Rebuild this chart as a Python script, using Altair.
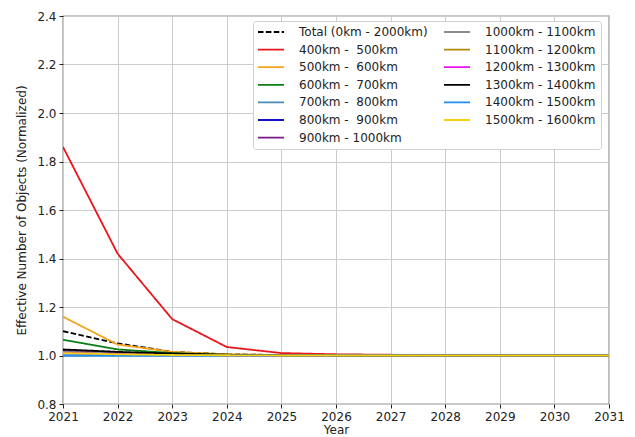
import altair as alt
import pandas as pd

years = list(range(2021, 2032))

series_names = [
    "Total (0km - 2000km)",
    "400km -\u00a0 500km",
    "500km -\u00a0 600km",
    "600km -\u00a0 700km",
    "700km -\u00a0 800km",
    "800km -\u00a0 900km",
    "900km - 1000km",
    "1000km - 1100km",
    "1100km - 1200km",
    "1200km - 1300km",
    "1300km - 1400km",
    "1400km - 1500km",
    "1500km - 1600km",
]

series_colors = [
    "#000000", "#e8161c", "#f5a31a", "#0a7d14", "#4a8bb5", "#1010c8", "#7a1a8a",
    "#8c8c8c", "#b08a0c", "#f010f0", "#000000", "#2090f0", "#f5d010",
]

total_v   = [1.100, 1.050, 1.015, 1.005, 1.002, 1.001, 1.000, 1.000, 1.000, 1.000, 1.000]
r400_v    = [1.860, 1.420, 1.150, 1.035, 1.010, 1.005, 1.003, 1.002, 1.001, 1.000, 1.000]
r500_v    = [1.160, 1.045, 1.015, 1.005, 1.002, 1.001, 1.000, 1.000, 1.000, 1.000, 1.000]
r600_v    = [1.065, 1.025, 1.010, 1.003, 1.001, 1.000, 1.000, 1.000, 1.000, 1.000, 1.000]
r700_v    = [1.000, 1.000, 1.000, 1.000, 1.000, 1.000, 1.000, 1.000, 1.000, 1.000, 1.000]
r800_v    = [1.020, 1.010, 1.004, 1.002, 1.001, 1.000, 1.000, 1.000, 1.000, 1.000, 1.000]
r900_v    = [1.020, 1.010, 1.004, 1.002, 1.001, 1.000, 1.000, 1.000, 1.000, 1.000, 1.000]
r1000_v   = [1.015, 1.008, 1.003, 1.001, 1.000, 1.000, 1.000, 1.000, 1.000, 1.000, 1.000]
r1100_v   = [1.010, 1.005, 1.002, 1.001, 1.000, 1.000, 1.000, 1.000, 1.000, 1.000, 1.000]
r1200_v   = [1.010, 1.005, 1.002, 1.001, 1.000, 1.000, 1.000, 1.000, 1.000, 1.000, 1.000]
r1300_v   = [1.025, 1.015, 1.008, 1.003, 1.001, 1.000, 1.000, 1.000, 1.000, 1.000, 1.000]
r1400_v   = [1.000, 1.000, 1.000, 1.000, 1.000, 1.000, 1.000, 1.000, 1.000, 1.000, 1.000]
r1500_v   = [1.010, 1.005, 1.002, 1.001, 1.000, 1.000, 1.000, 1.000, 1.000, 1.000, 1.000]

all_values = [total_v, r400_v, r500_v, r600_v, r700_v, r800_v, r900_v,
              r1000_v, r1100_v, r1200_v, r1300_v, r1400_v, r1500_v]

rows = []
for name, vals in zip(series_names, all_values):
    for yr, v in zip(years, vals):
        rows.append({"series": name, "year": yr, "value": v})
df = pd.DataFrame(rows)

legend_dashes = [[5.5, 2.4] if n.startswith("Total") else [1, 0] for n in series_names]

FONT = "DejaVu Sans"

chart = alt.Chart(df).mark_line(strokeWidth=1.8, clip=True).encode(
    x=alt.X("year:Q", title="Year",
            scale=alt.Scale(domain=[2021, 2031], nice=False, zero=False),
            axis=alt.Axis(values=years, format="d", labelFlush=False)),
    y=alt.Y("value:Q", title="Effective Number of Objects (Normalized)",
            scale=alt.Scale(domain=[0.8, 2.4], nice=False, zero=False),
            axis=alt.Axis(values=[0.8, 1.0, 1.2, 1.4, 1.6, 1.8, 2.0, 2.2, 2.4], format=".1f",
                          labelFlush=False)),
    color=alt.Color("series:N", title=None,
                    scale=alt.Scale(domain=series_names, range=series_colors),
                    legend=alt.Legend(orient="none", legendX=190, legendY=5, columns=2,
                                      symbolType="M-1.2,0H4", symbolSize=100,
                                      symbolStrokeWidth=1.8, labelOffset=29,
                                      columnPadding=12, rowPadding=5.6, padding=5,
                                      fillColor="white", strokeColor="#d0d0d0",
                                      cornerRadius=3, labelFontSize=12,
                                      labelFont=FONT, labelColor="#222222",
                                      labelLimit=300)),
    strokeDash=alt.StrokeDash("series:N", title=None,
                              scale=alt.Scale(domain=series_names, range=legend_dashes)),
    detail="series:N",
).properties(
    width=546, height=388,
    autosize=alt.AutoSizeParams(type="none"),
    padding={"left": 63, "top": 16, "right": 26, "bottom": 33},
).configure_view(
    stroke="#222222", strokeWidth=1.2
).configure_axis(
    grid=True, gridColor="#cccccc", gridWidth=1,
    domain=False,
    tickColor="#222222", tickSize=4,
    labelFont=FONT, labelFontSize=12, labelColor="#222222",
    titleFont=FONT, titleFontSize=12, titleColor="#222222", titleFontWeight="normal",
).configure_axisX(
    labelPadding=3, titlePadding=2
).configure_axisY(
    labelPadding=3, titlePadding=8
)

chart.save("out.html", embed_options={"renderer": "svg", "actions": False})
